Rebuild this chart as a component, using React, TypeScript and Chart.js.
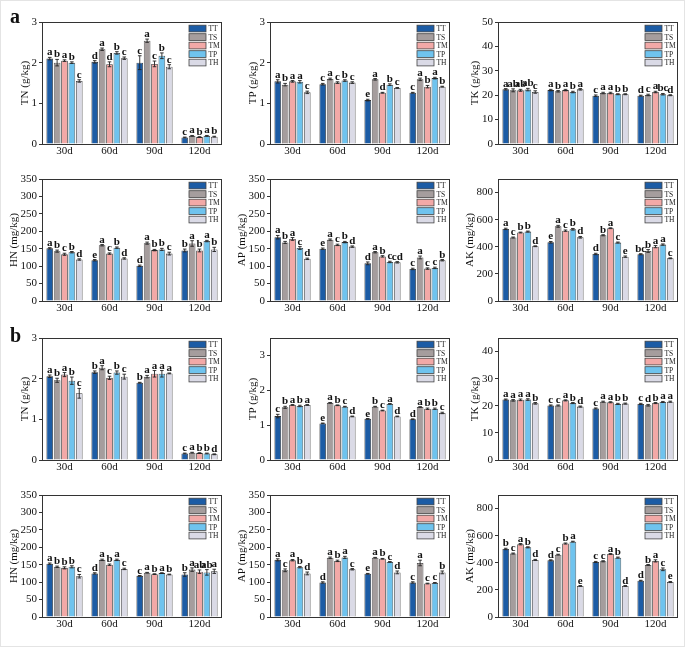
import React, { useEffect, useRef } from "react";
import { Chart, registerables } from "chart.js";
Chart.register(...registerables);

const FONT = "'Liberation Serif', 'Times New Roman', serif";
Chart.defaults.font.family = FONT;

const categories = ["30d", "60d", "90d", "120d"];
const seriesNames = ["TT", "TS", "TM", "TP", "TH"];
const seriesColors = ["#1c5ca5", "#a59d9d", "#f2a9a7", "#6fc3ee", "#dadae6"];

// rows = categories (30d, 60d, 90d, 120d), columns = series (TT, TS, TM, TP, TH)
const aTN = [[2.10, 2.00, 2.05, 2.00, 1.55], [2.02, 2.33, 1.96, 2.24, 2.11], [2.00, 2.54, 1.97, 2.17, 1.90], [0.16, 0.20, 0.17, 0.20, 0.18]];
const aTN_err = [[0.03, 0.08, 0.02, 0.02, 0.03], [0.03, 0.03, 0.06, 0.03, 0.03], [0.17, 0.04, 0.07, 0.07, 0.05], [0.01, 0.01, 0.01, 0.01, 0.01]];
const aTN_sig = [["a", "b", "a", "b", "c"], ["d", "a", "d", "b", "c"], ["c", "a", "c", "b", "c"], ["c", "a", "b", "a", "b"]];

const aTP = [[1.54, 1.46, 1.54, 1.53, 1.27], [1.47, 1.60, 1.51, 1.56, 1.51], [1.08, 1.59, 1.26, 1.46, 1.38], [1.26, 1.59, 1.41, 1.62, 1.41]];
const aTP_err = [[0.04, 0.03, 0.02, 0.03, 0.03], [0.02, 0.02, 0.02, 0.02, 0.02], [0.02, 0.02, 0.01, 0.02, 0.01], [0.01, 0.03, 0.03, 0.02, 0.01]];
const aTP_sig = [["a", "b", "a", "a", "c"], ["c", "a", "c", "b", "c"], ["e", "a", "d", "b", "c"], ["c", "a", "b", "a", "b"]];

const aTK = [[22.4, 22.0, 22.0, 22.3, 21.3], [22.1, 21.6, 22.1, 21.3, 22.4], [19.8, 20.9, 20.9, 20.4, 20.4], [19.8, 20.1, 21.3, 20.4, 20.0]];
const aTK_err = [[0.3, 0.6, 0.4, 0.5, 0.5], [0.3, 0.3, 0.3, 0.3, 0.3], [0.3, 0.3, 0.3, 0.2, 0.2], [0.2, 0.3, 0.3, 0.3, 0.2]];
const aTK_sig = [["a", "ab", "ab", "ab", "c"], ["a", "b", "a", "b", "a"], ["c", "a", "a", "b", "b"], ["d", "c", "a", "bc", "d"]];

const aHN = [[151, 143, 134, 140, 119], [117, 160, 136, 153, 122], [101, 166, 146, 148, 136], [145, 165, 145, 172, 148]];
const aHN_err = [[2, 3, 3, 2, 2], [2, 2, 2, 2, 2], [2, 3, 2, 3, 4], [4, 8, 4, 2, 6]];
const aHN_sig = [["a", "b", "c", "b", "d"], ["e", "a", "c", "b", "d"], ["d", "a", "b", "b", "c"], ["b", "a", "b", "a", "b"]];

const aAP = [[183, 168, 178, 152, 121], [150, 176, 161, 169, 156], [108, 140, 128, 112, 111], [92, 125, 93, 95, 117]];
const aAP_err = [[5, 3, 4, 4, 2], [2, 2, 2, 2, 2], [4, 2, 2, 2, 2], [2, 4, 2, 2, 2]];
const aAP_sig = [["a", "b", "a", "c", "d"], ["e", "a", "c", "b", "d"], ["d", "a", "b", "c", "cd"], ["c", "a", "c", "c", "b"]];

const aAK = [[532, 468, 505, 512, 404], [433, 551, 519, 529, 470], [347, 485, 537, 431, 327], [345, 369, 401, 416, 315]];
const aAK_err = [[5, 4, 3, 4, 3], [6, 7, 5, 6, 6], [5, 4, 3, 4, 5], [4, 10, 8, 5, 3]];
const aAK_sig = [["a", "c", "b", "b", "d"], ["e", "a", "c", "b", "d"], ["d", "b", "a", "c", "e"], ["bc", "b", "a", "a", "c"]];

const bTN = [[2.06, 1.96, 2.10, 1.95, 1.64], [2.16, 2.27, 2.02, 2.15, 2.05], [1.90, 2.05, 2.12, 2.12, 2.13], [0.16, 0.18, 0.17, 0.16, 0.14]];
const bTN_err = [[0.03, 0.05, 0.05, 0.09, 0.12], [0.03, 0.05, 0.04, 0.04, 0.06], [0.01, 0.03, 0.08, 0.08, 0.01], [0.01, 0.01, 0.01, 0.01, 0.01]];
const bTN_sig = [["a", "b", "a", "b", "c"], ["b", "a", "c", "b", "c"], ["b", "a", "a", "a", "a"], ["c", "a", "b", "b", "d"]];

const bTP = [[1.26, 1.51, 1.58, 1.55, 1.58], [1.05, 1.64, 1.57, 1.53, 1.25], [1.18, 1.53, 1.42, 1.61, 1.25], [1.17, 1.52, 1.47, 1.47, 1.35]];
const bTP_err = [[0.05, 0.03, 0.01, 0.02, 0.01], [0.01, 0.01, 0.01, 0.01, 0.01], [0.01, 0.01, 0.01, 0.01, 0.01], [0.01, 0.01, 0.02, 0.02, 0.02]];
const bTP_sig = [["c", "b", "a", "b", "a"], ["e", "a", "b", "c", "d"], ["e", "b", "c", "a", "d"], ["d", "a", "b", "b", "c"]];

const bTK = [[22.3, 22.0, 22.2, 22.3, 20.9], [20.1, 20.1, 22.0, 21.0, 19.7], [19.0, 21.5, 21.3, 20.7, 20.8], [20.7, 20.2, 21.0, 21.4, 21.5]];
const bTK_err = [[0.2, 0.3, 0.3, 0.3, 0.3], [0.2, 0.2, 0.2, 0.2, 0.2], [0.2, 0.2, 0.2, 0.2, 0.2], [0.2, 0.3, 0.2, 0.2, 0.2]];
const bTK_sig = [["a", "a", "a", "a", "b"], ["c", "c", "a", "b", "d"], ["c", "a", "a", "b", "b"], ["c", "d", "b", "a", "a"]];

const bHN = [[153, 144, 141, 144, 117], [125, 164, 150, 164, 138], [118, 127, 123, 126, 122], [122, 136, 130, 128, 131]];
const bHN_err = [[2, 2, 3, 3, 5], [2, 2, 2, 2, 2], [1, 1, 1, 1, 1], [5, 5, 5, 8, 6]];
const bHN_sig = [["a", "b", "b", "b", "c"], ["d", "a", "b", "a", "c"], ["c", "a", "b", "a", "b"], ["b", "a", "ab", "ab", "a"]];

const bAP = [[164, 134, 163, 143, 125], [99, 170, 161, 171, 137], [124, 170, 167, 158, 128], [99, 155, 96, 98, 128]];
const bAP_err = [[3, 4, 2, 2, 4], [2, 2, 2, 3, 2], [1, 1, 1, 1, 4], [2, 8, 1, 1, 4]];
const bAP_sig = [["a", "c", "a", "b", "d"], ["d", "a", "b", "a", "c"], ["e", "a", "b", "c", "d"], ["c", "a", "c", "c", "b"]];

const bAK = [[502, 468, 537, 514, 421], [418, 460, 542, 556, 229], [406, 411, 465, 438, 229], [268, 384, 414, 352, 258]];
const bAK_err = [[5, 4, 5, 4, 4], [4, 3, 4, 3, 3], [4, 4, 3, 4, 3], [3, 3, 8, 10, 4]];
const bAK_sig = [["b", "c", "a", "b", "d"], ["d", "c", "b", "a", "e"], ["c", "c", "a", "b", "d"], ["d", "b", "a", "c", "e"]];

// layout (plot-area positions in page pixels)
const COL_LEFT = [41, 269, 497];
const ROW_TOP = [21, 178, 337, 494];
const PLOT_W = 180;
const PLOT_H = 122;
const AXIS_W = 41;
const PAD_TOP = 12;
const PAD_RIGHT = 6;
const AXIS_H = 22;

type PanelDef = {
  title: string;
  values: number[][];
  errors: number[][];
  sig: string[][];
  max: number;
  step: number;
  row: number;
  col: number;
};

const panels: PanelDef[] = [
  { title: "TN (g/kg)", values: aTN, errors: aTN_err, sig: aTN_sig, max: 3, step: 1, row: 0, col: 0 },
  { title: "TP (g/kg)", values: aTP, errors: aTP_err, sig: aTP_sig, max: 3, step: 1, row: 0, col: 1 },
  { title: "TK (g/kg)", values: aTK, errors: aTK_err, sig: aTK_sig, max: 50, step: 10, row: 0, col: 2 },
  { title: "HN (mg/kg)", values: aHN, errors: aHN_err, sig: aHN_sig, max: 350, step: 50, row: 1, col: 0 },
  { title: "AP (mg/kg)", values: aAP, errors: aAP_err, sig: aAP_sig, max: 350, step: 50, row: 1, col: 1 },
  { title: "AK (mg/kg)", values: aAK, errors: aAK_err, sig: aAK_sig, max: 900, step: 200, row: 1, col: 2 },
  { title: "TN (g/kg)", values: bTN, errors: bTN_err, sig: bTN_sig, max: 3, step: 1, row: 2, col: 0 },
  { title: "TP (g/kg)", values: bTP, errors: bTP_err, sig: bTP_sig, max: 3.5, step: 1, row: 2, col: 1 },
  { title: "TK (g/kg)", values: bTK, errors: bTK_err, sig: bTK_sig, max: 45, step: 10, row: 2, col: 2 },
  { title: "HN (mg/kg)", values: bHN, errors: bHN_err, sig: bHN_sig, max: 350, step: 50, row: 3, col: 0 },
  { title: "AP (mg/kg)", values: bAP, errors: bAP_err, sig: bAP_sig, max: 350, step: 50, row: 3, col: 1 },
  { title: "AK (mg/kg)", values: bAK, errors: bAK_err, sig: bAK_sig, max: 900, step: 200, row: 3, col: 2 },
];

const decorPlugin = {
  id: "decor",
  afterDatasetsDraw(chart: any) {
    const ctx = chart.ctx;
    const yScale = chart.scales.y;
    const area = chart.chartArea;
    const title = chart.options.plugins.decor.title;
    ctx.save();
    // error bars + significance letters
    chart.data.datasets.forEach((ds: any, di: number) => {
      const meta = chart.getDatasetMeta(di);
      meta.data.forEach((bar: any, i: number) => {
        const v = ds.data[i];
        const e = ds.errors[i];
        const x = bar.x;
        const yT = yScale.getPixelForValue(v + e);
        const yB = yScale.getPixelForValue(v - e);
        ctx.strokeStyle = "#222";
        ctx.lineWidth = 0.9;
        ctx.beginPath();
        ctx.moveTo(x, yT);
        ctx.lineTo(x, yB);
        ctx.moveTo(x - 1.8, yT);
        ctx.lineTo(x + 1.8, yT);
        ctx.moveTo(x - 1.8, yB);
        ctx.lineTo(x + 1.8, yB);
        ctx.stroke();
        ctx.fillStyle = "#111";
        ctx.font = `bold 11px ${FONT}`;
        ctx.textAlign = "center";
        ctx.textBaseline = "alphabetic";
        ctx.fillText(ds.sig[i], x, yT - 2);
      });
    });
    // plot frame
    ctx.strokeStyle = "#333";
    ctx.lineWidth = 1;
    ctx.strokeRect(area.left + 0.5, area.top + 0.5, area.right - area.left - 1, area.bottom - area.top);
    // legend
    const sx = area.right - 33;
    const sw = 17;
    const sh = 6.7;
    const gap = 8.5;
    chart.data.datasets.forEach((ds: any, di: number) => {
      const sy = area.top + 3.2 + di * gap;
      ctx.fillStyle = ds.backgroundColor;
      ctx.fillRect(sx, sy, sw, sh);
      ctx.strokeStyle = "#444";
      ctx.lineWidth = 0.8;
      ctx.strokeRect(sx, sy, sw, sh);
      ctx.fillStyle = "#222";
      ctx.font = `7.5px ${FONT}`;
      ctx.textAlign = "left";
      ctx.textBaseline = "middle";
      ctx.fillText(ds.label, sx + sw + 2.5, sy + sh / 2 + 0.5);
    });
    // y-axis title
    ctx.font = `11px ${FONT}`;
    let maxW = 0;
    yScale.ticks.forEach((t: any) => {
      const w = ctx.measureText(String(t.label)).width;
      if (w > maxW) maxW = w;
    });
    const tx = area.left - 5 - maxW - 6.5;
    const ty = (area.top + area.bottom) / 2;
    ctx.translate(tx, ty);
    ctx.rotate(-Math.PI / 2);
    ctx.fillStyle = "#111";
    ctx.textAlign = "center";
    ctx.textBaseline = "middle";
    ctx.fillText(title, 0, 0);
    ctx.restore();
  },
};

function Panel({ def }: { def: PanelDef }) {
  const ref = useRef<HTMLCanvasElement>(null);
  const cw = AXIS_W + PLOT_W + PAD_RIGHT;
  const ch = PAD_TOP + PLOT_H + AXIS_H;
  const left = COL_LEFT[def.col] - AXIS_W;
  const top = ROW_TOP[def.row] - PAD_TOP;

  useEffect(() => {
    if (!ref.current) return;
    const datasets = seriesNames.map((name, si) => ({
      label: name,
      data: def.values.map((row) => row[si]),
      errors: def.errors.map((row) => row[si]),
      sig: def.sig.map((row) => row[si]),
      backgroundColor: seriesColors[si],
      borderColor: "#333",
      borderWidth: 0.8,
      barPercentage: 0.9,
      categoryPercentage: 0.82,
    }));
    const chart = new Chart(ref.current, {
      type: "bar",
      data: { labels: categories, datasets: datasets as any },
      options: {
        animation: false,
        responsive: false,
        layout: { padding: { top: PAD_TOP, right: PAD_RIGHT, left: 0, bottom: 0 } },
        plugins: {
          legend: { display: false },
          tooltip: { enabled: false },
          decor: { title: def.title },
        } as any,
        scales: {
          x: {
            grid: { display: false, drawTicks: false },
            border: { display: false },
            ticks: { font: { family: FONT, size: 11 }, color: "#111", padding: 1, maxRotation: 0, autoSkip: false },
            afterFit: (s: any) => {
              s.height = AXIS_H;
            },
          },
          y: {
            min: 0,
            max: def.max,
            grid: { display: true, drawOnChartArea: false, drawTicks: true, tickLength: 3, color: "#333" },
            border: { display: false },
            ticks: { stepSize: def.step, includeBounds: false, font: { family: FONT, size: 11 }, color: "#111", padding: 2 },
            afterFit: (s: any) => {
              s.width = AXIS_W;
            },
          },
        } as any,
      },
      plugins: [decorPlugin],
    });
    return () => chart.destroy();
  }, [def]);

  return (
    <canvas
      ref={ref}
      width={cw}
      height={ch}
      style={{ position: "absolute", left, top, width: cw, height: ch }}
    />
  );
}

const groupLabels = [
  { text: "a", left: 9, top: 5 },
  { text: "b", left: 9, top: 324 },
];

export default function App() {
  return (
    <div
      style={{
        position: "fixed",
        left: 0,
        top: 0,
        width: 685,
        height: 647,
        background: "#fff",
        border: "1px solid #e4e4e4",
        boxSizing: "border-box",
        overflow: "hidden",
      }}
    >
      {panels.map((p, i) => (
        <Panel key={i} def={p} />
      ))}
      {groupLabels.map((g) => (
        <div
          key={g.text}
          style={{
            position: "absolute",
            left: g.left,
            top: g.top,
            fontFamily: FONT,
            fontWeight: "bold",
            fontSize: 20,
            lineHeight: "20px",
            color: "#111",
          }}
        >
          {g.text}
        </div>
      ))}
    </div>
  );
}
